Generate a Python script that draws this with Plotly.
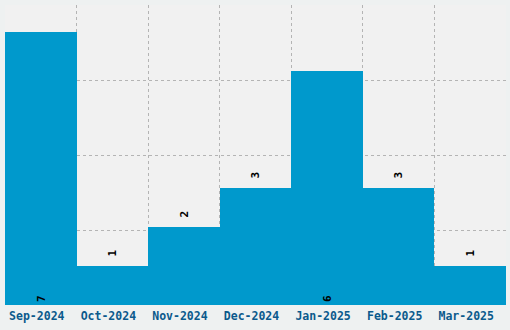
import plotly.graph_objects as go

months = ["Sep-2024", "Oct-2024", "Nov-2024", "Dec-2024", "Jan-2025", "Feb-2025", "Mar-2025"]
counts = [7, 1, 2, 3, 6, 3, 1]
inside_threshold = 5

positions = ["inside" if c >= inside_threshold else "outside" for c in counts]
labels = [str(c) if c >= inside_threshold else "\u00a0" + str(c) for c in counts]

lblfont = dict(family="DejaVu Sans Mono", size=11, color="black", weight="bold")

fig = go.Figure(go.Bar(
    x=months, y=counts,
    text=labels,
    textposition=positions,
    insidetextanchor="start",
    textangle=-90,
    textfont=lblfont,
    insidetextfont=lblfont,
    outsidetextfont=lblfont,
    marker=dict(color="#0099cc", line=dict(width=0)),
    cliponaxis=False,
))

ymax = 7.7
grid = "rgba(0,0,0,0.25)"
fig.update_layout(
    width=510, height=330,
    margin=dict(l=5, r=4, t=5, b=25),
    paper_bgcolor="#eef1f1",
    plot_bgcolor="#f1f1f1",
    bargap=0,
    showlegend=False,
    xaxis=dict(
        type="category",
        tickson="boundaries",
        showgrid=True,
        gridcolor=grid,
        griddash="3px,3px",
        gridwidth=1,
        layer="above traces",
        ticks="",
        ticklabelshift=-4,
        ticklabelstandoff=2,
        tickfont=dict(family="DejaVu Sans Mono", size=11.5, color="#0b5a8c", weight="bold"),
        zeroline=False,
        showline=False,
    ),
    yaxis=dict(
        range=[0, ymax],
        tickvals=[ymax * i / 4 for i in range(5)],
        showticklabels=False,
        showgrid=True,
        gridcolor=grid,
        griddash="3px,3px",
        gridwidth=1,
        layer="above traces",
        zeroline=False,
        ticks="",
    ),
)

fig.write_html("out.html")
